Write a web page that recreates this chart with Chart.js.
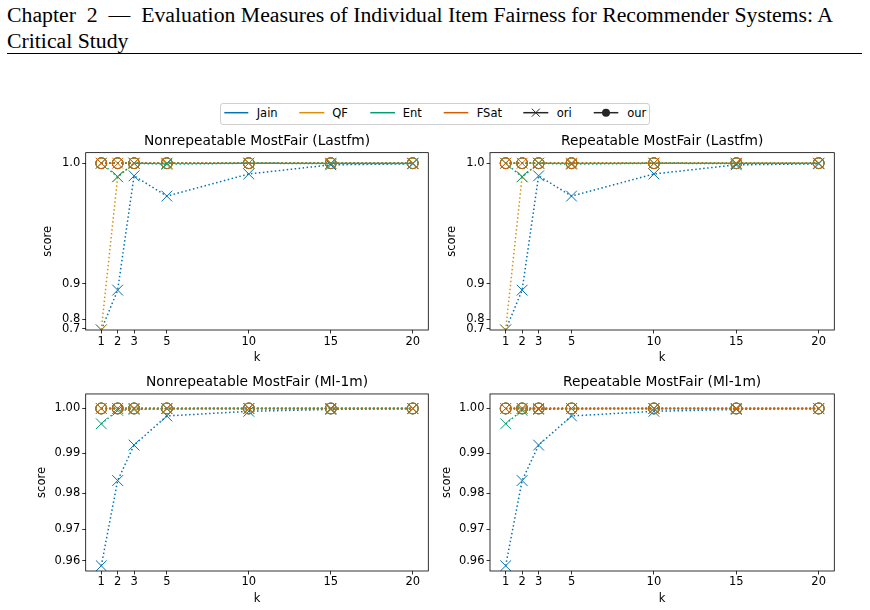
<!DOCTYPE html>
<html lang="en">
<head>
<meta charset="utf-8">
<title>Item fairness scores</title>
<script src="https://cdn.jsdelivr.net/npm/chart.js@4.4.1/dist/chart.umd.min.js"></script>
<style>
  html, body { margin: 0; padding: 0; background: #fff; }
  #page { position: relative; width: 870px; height: 610px; overflow: hidden; }
  .hdr { position: absolute; left: 7px; font-family: 'Liberation Serif', serif; font-size: 20.5px;
         white-space: pre; transform-origin: 0 0; color: #000; line-height: 27px; }
  #rule { position: absolute; left: 7px; top: 53px; width: 855px; height: 1.3px; background: #000; }
  canvas { position: absolute; }
  #legendBox { position: absolute; left: 220px; top: 103px; width: 428px; height: 19.5px;
               border: 1px solid #d0d0d0; border-radius: 3px; }
  .lgText { position: absolute; font-family: 'DejaVu Sans'; font-size: 11.5px; line-height: 14px; color: #000; }
  svg { position: absolute; overflow: visible; }
</style>
</head>
<body>
<div id="page">
  <div class="hdr" id="hdr1" style="top:1.5px">Chapter  2  —  Evaluation Measures of Individual Item Fairness for Recommender Systems: A</div>
  <div class="hdr" id="hdr2" style="top:27.5px">Critical Study</div>
  <div id="rule"></div>
  <div id="legendBox"></div>

  <canvas id="c1" width="440" height="244" style="left:0px;top:128px"></canvas>
  <canvas id="c2" width="434" height="244" style="left:436px;top:128px"></canvas>
  <canvas id="c3" width="440" height="240" style="left:0px;top:370px"></canvas>
  <canvas id="c4" width="434" height="240" style="left:436px;top:370px"></canvas>
</div>

<script>

// ---- data ----
var kValues = [1, 2, 3, 5, 10, 15, 20];
var seriesNames = ['Jain', 'QF', 'Ent', 'FSat'];
var seriesColors = ['#0173b2', '#de8f05', '#029e73', '#d55e00'];

var lastfmTicks = [0.7, 0.8, 0.9, 1.0];
var mlTicks = [0.96, 0.97, 0.98, 0.99, 1.00];

// "ori" measures
var nrLastfmJain = [0.66, 0.889, 0.9935, 0.982, 0.9945, 0.9992, 0.9997];
var nrLastfmQF   = [0.655, 0.993, 1.0, 1.0, 1.0, 1.0, 1.0];
var nrLastfmEnt  = [1.0, 0.993, 1.0, 0.9995, 1.0, 0.9998, 0.9999];
var nrLastfmFSat = [1.0, 1.0, 1.0, 1.0, 1.0, 1.0, 1.0];

var rLastfmJain = [0.66, 0.889, 0.9935, 0.982, 0.9945, 0.9992, 0.9997];
var rLastfmQF   = [0.655, 0.993, 1.0, 1.0, 1.0, 1.0, 1.0];
var rLastfmEnt  = [1.0, 0.993, 1.0, 0.9995, 1.0, 0.9998, 0.9999];
var rLastfmFSat = [1.0, 1.0, 1.0, 1.0, 1.0, 1.0, 1.0];

var nrMlJain = [0.9584, 0.9833, 0.9919, 0.9984, 0.9994, 0.9998, 0.99995];
var nrMlQF   = [1.0, 1.0, 1.0, 1.0, 1.0, 1.0, 1.0];
var nrMlEnt  = [0.9967, 0.9996, 0.9998, 0.99995, 1.0, 1.0, 1.0];
var nrMlFSat = [1.0, 1.0, 1.0, 1.0, 1.0, 1.0, 1.0];

var rMlJain = [0.9584, 0.9833, 0.9919, 0.9984, 0.9994, 0.9998, 0.99995];
var rMlQF   = [1.0, 1.0, 1.0, 1.0, 1.0, 1.0, 1.0];
var rMlEnt  = [0.9967, 0.9996, 0.9998, 0.99995, 1.0, 1.0, 1.0];
var rMlFSat = [1.0, 1.0, 1.0, 1.0, 1.0, 1.0, 1.0];

// "our" measures (all at the maximum)
var ourJain = [1.0, 1.0, 1.0, 1.0, 1.0, 1.0, 1.0];
var ourQF   = [1.0, 1.0, 1.0, 1.0, 1.0, 1.0, 1.0];
var ourEnt  = [1.0, 1.0, 1.0, 1.0, 1.0, 1.0, 1.0];
var ourFSat = [1.0, 1.0, 1.0, 1.0, 1.0, 1.0, 1.0];


// ---- header: fit first line to the text block width ----
(function () {
    var h1 = document.getElementById('hdr1');
    var h2 = document.getElementById('hdr2');
    var s = 826 / h1.getBoundingClientRect().width;
    h1.style.transform = 'scaleX(' + s + ')';
    h2.style.transform = 'scaleX(' + s + ')';
})();


// ---- power scale (y^12) ----
var POW = 12;
class PowerScale extends Chart.LinearScale {
    getPixelForValue(v) {
        var a = Math.pow(this.min, POW), b = Math.pow(this.max, POW);
        return this.getPixelForDecimal((Math.pow(v, POW) - a) / (b - a));
    }
    getValueForPixel(p) {
        var a = Math.pow(this.min, POW), b = Math.pow(this.max, POW);
        return Math.pow(a + this.getDecimalForPixel(p) * (b - a), 1 / POW);
    }
}
PowerScale.id = 'power';
PowerScale.defaults = {};
Chart.register(PowerScale);

var framePlugin = {
    id: 'frame',
    afterDatasetsDraw: function (chart) {
        var a = chart.chartArea, ctx = chart.ctx;
        ctx.save();
        ctx.strokeStyle = '#000';
        ctx.lineWidth = 0.8;
        ctx.strokeRect(a.left, a.top, a.right - a.left, a.bottom - a.top);
        ctx.restore();
    }
};

Chart.defaults.font.family = 'DejaVu Sans';
Chart.defaults.font.size = 11.5;
Chart.defaults.color = '#000';


function buildDatasets(ori) {
    var our = [ourJain, ourQF, ourEnt, ourFSat];
    var ds = [];
    ori.forEach(function (vals, i) {
        ds.push({
            label: seriesNames[i] + ' ori',
            data: kValues.map(function (k, j) { return {x: k, y: vals[j]}; }),
            borderColor: seriesColors[i], borderWidth: 1.5, borderDash: [1.5, 2.5],
            pointStyle: 'crossRot', pointRadius: 7.6, pointBorderWidth: 1,
            pointBorderColor: seriesColors[i], pointBackgroundColor: seriesColors[i],
            fill: false, tension: 0
        });
    });
    our.forEach(function (vals, i) {
        ds.push({
            label: seriesNames[i] + ' our',
            data: kValues.map(function (k, j) { return {x: k, y: vals[j]}; }),
            borderColor: seriesColors[i], borderWidth: 1.5, borderDash: [1.5, 2.5],
            pointStyle: 'circle', pointRadius: 5.4, pointBorderWidth: 1,
            pointBorderColor: seriesColors[i], pointBackgroundColor: 'rgba(0,0,0,0)',
            fill: false, tension: 0
        });
    });
    ds.forEach(function (d, i) { d.order = -i; });
    return ds;
}


function makeChart(id, p) {
    var ctx = document.getElementById(id);
    return new Chart(ctx, {
        type: 'line',
        data: { datasets: buildDatasets(p.ori) },
        options: {
            responsive: false,
            animation: false,
            devicePixelRatio: 1,
            layout: { padding: { left: 0, right: p.padRight, top: 0, bottom: 0 } },
            plugins: {
                legend: { display: false },
                tooltip: { enabled: false },
                title: {
                    display: true, text: p.title, fullSize: false,
                    font: { size: 13.8, weight: 'normal' }, color: '#000',
                    padding: { top: p.titleTop, bottom: p.titleBottom }
                }
            },
            scales: {
                x: {
                    type: 'linear', min: 0.05, max: 20.95,
                    afterBuildTicks: function (s) { s.ticks = kValues.map(function (v) { return {value: v}; }); },
                    afterFit: function (s) { s.height = p.xHeight; },
                    ticks: { autoSkip: false, maxRotation: 0, padding: p.xTickPad,
                             callback: function (v) { return String(v); } },
                    grid: { display: true, drawOnChartArea: false, drawTicks: true,
                            tickLength: 3.5, tickWidth: 0.8, tickColor: '#000' },
                    border: { display: false },
                    title: { display: true, text: 'k', color: '#000',
                             padding: { top: 0, bottom: p.xTitlePad } }
                },
                y: {
                    type: 'power', min: p.yMin, max: p.yMax,
                    afterBuildTicks: function (s) { s.ticks = p.yTicks.map(function (v) { return {value: v}; }); },
                    afterFit: function (s) { s.width = p.yWidth; },
                    ticks: { padding: 2, callback: function (v) { return v.toFixed(p.dec); } },
                    grid: { display: true, drawOnChartArea: false, drawTicks: true,
                            tickLength: 3.5, tickWidth: 0.8, tickColor: '#000' },
                    border: { display: false },
                    title: { display: true, text: 'score', color: '#000',
                             padding: { top: p.yTitlePad, bottom: 0 } }
                }
            }
        },
        plugins: [framePlugin]
    });
}


makeChart('c1', {
    title: 'Nonrepeatable MostFair (Lastfm)',
    ori: [nrLastfmJain, nrLastfmQF, nrLastfmEnt, nrLastfmFSat],
    yTicks: lastfmTicks, dec: 1, yMin: 0.654, yMax: 1.0051,
    padRight: 11.7, yWidth: 85.7, yTitlePad: 41.1,
    titleTop: 4.9, titleBottom: 3.2, xHeight: 42, xTickPad: 1.9, xTitlePad: 6.8
});
makeChart('c2', {
    title: 'Repeatable MostFair (Lastfm)',
    ori: [rLastfmJain, rLastfmQF, rLastfmEnt, rLastfmFSat],
    yTicks: lastfmTicks, dec: 1, yMin: 0.654, yMax: 1.0051,
    padRight: 35.7, yWidth: 54, yTitlePad: 9.1,
    titleTop: 4.9, titleBottom: 3.2, xHeight: 42, xTickPad: 1.9, xTitlePad: 6.8
});
makeChart('c3', {
    title: 'Nonrepeatable MostFair (Ml-1m)',
    ori: [nrMlJain, nrMlQF, nrMlEnt, nrMlFSat],
    yTicks: mlTicks, dec: 2, yMin: 0.95662, yMax: 1.00302,
    padRight: 11.7, yWidth: 85.7, yTitlePad: 35.5,
    titleTop: 4.4, titleBottom: 3.0, xHeight: 39, xTickPad: 0.9, xTitlePad: 4.1
});
makeChart('c4', {
    title: 'Repeatable MostFair (Ml-1m)',
    ori: [rMlJain, rMlQF, rMlEnt, rMlFSat],
    yTicks: mlTicks, dec: 2, yMin: 0.95662, yMax: 1.00302,
    padRight: 35.7, yWidth: 54, yTitlePad: 3.8,
    titleTop: 4.4, titleBottom: 3.0, xHeight: 39, xTickPad: 0.9, xTitlePad: 4.1
});


// ---- shared legend (proxy handles) ----
(function () {
    var page = document.getElementById('page');
    var ly = 112.7;
    var items = [
        {label: 'Jain', color: seriesColors[0], x0: 224.3, x1: 248.3, tx: 256.7},
        {label: 'QF',   color: seriesColors[1], x0: 299.3, x1: 324.3, tx: 332.3},
        {label: 'Ent',  color: seriesColors[2], x0: 370.3, x1: 395.0, tx: 402.7},
        {label: 'FSat', color: seriesColors[3], x0: 443.7, x1: 468.3, tx: 476.7},
        {label: 'ori',  color: '#262626', x0: 523.3, x1: 548.3, tx: 556.7, marker: 'x'},
        {label: 'our',  color: '#262626', x0: 593.7, x1: 618.3, tx: 627.3, marker: 'o'}
    ];
    var NS = 'http://www.w3.org/2000/svg';
    var svg = document.createElementNS(NS, 'svg');
    svg.setAttribute('width', 870);
    svg.setAttribute('height', 610);
    svg.style.left = '0px';
    svg.style.top = '0px';
    items.forEach(function (it) {
        var ln = document.createElementNS(NS, 'line');
        ln.setAttribute('x1', it.x0); ln.setAttribute('x2', it.x1);
        ln.setAttribute('y1', ly); ln.setAttribute('y2', ly);
        ln.setAttribute('stroke', it.color); ln.setAttribute('stroke-width', 1.5);
        svg.appendChild(ln);
        var cx = (it.x0 + it.x1) / 2;
        if (it.marker === 'x') {
            var pth = document.createElementNS(NS, 'path');
            pth.setAttribute('d', 'M' + (cx - 4) + ' ' + (ly - 4) + 'L' + (cx + 4) + ' ' + (ly + 4) +
                                  'M' + (cx - 4) + ' ' + (ly + 4) + 'L' + (cx + 4) + ' ' + (ly - 4));
            pth.setAttribute('stroke', it.color); pth.setAttribute('stroke-width', 1);
            svg.appendChild(pth);
        } else if (it.marker === 'o') {
            var c = document.createElementNS(NS, 'circle');
            c.setAttribute('cx', cx); c.setAttribute('cy', ly); c.setAttribute('r', 4);
            c.setAttribute('fill', it.color);
            svg.appendChild(c);
        }
        var t = document.createElement('div');
        t.className = 'lgText';
        t.textContent = it.label;
        t.style.left = it.tx + 'px';
        t.style.top = (ly - 7) + 'px';
        page.appendChild(t);
    });
    page.appendChild(svg);
})();

</script>
</body>
</html>
